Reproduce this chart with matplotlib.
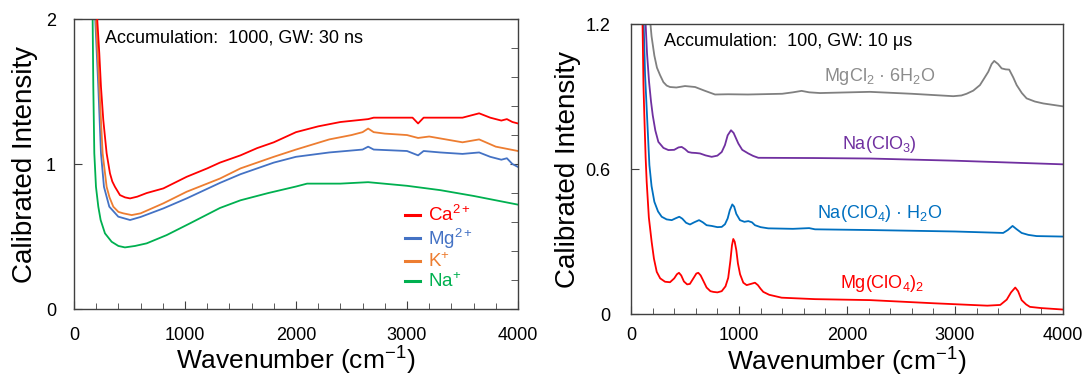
import numpy as np
import matplotlib
matplotlib.use("Agg")
import matplotlib.pyplot as plt
from matplotlib.ticker import MultipleLocator

# --------------------------------------------------------------
# Calibrated spectra: cations (left) and salts (right)
# --------------------------------------------------------------

plt.rcParams['font.family'] = ['Liberation Sans', 'DejaVu Sans']
plt.rcParams['mathtext.fontset'] = 'custom'
plt.rcParams['mathtext.rm'] = 'Liberation Sans'
plt.rcParams['mathtext.it'] = 'Liberation Sans:italic'

# ---- left panel: cations (Accumulation 1000, GW 30 ns) ----
ca_x = [205, 210, 228, 243, 264, 294, 324, 345, 369, 414, 460, 505, 570, 655,
        805, 1015, 1200, 1315, 1500, 1650, 1800, 2000, 2200, 2400, 2650, 2700,
        2900, 3050, 3100, 3150, 3300, 3500, 3650, 3750, 3850, 3900, 3950, 4000]
ca_y = [2.10, 1.99, 1.763, 1.533, 1.303, 1.074, 0.936, 0.88, 0.843, 0.786,
        0.77, 0.763, 0.775, 0.80, 0.832, 0.912, 0.97, 1.01, 1.06, 1.11, 1.15,
        1.22, 1.26, 1.29, 1.31, 1.32, 1.32, 1.32, 1.28, 1.32, 1.32, 1.32, 1.35,
        1.32, 1.30, 1.31, 1.29, 1.28]

k_x = [195, 198, 228, 258, 294, 320, 354, 400, 444, 520, 600, 805, 1015, 1315,
       1500, 1800, 2000, 2300, 2500, 2600, 2650, 2700, 2800, 3000, 3100, 3200,
       3350, 3500, 3650, 3800, 4000]
k_y = [2.10, 1.99, 1.533, 1.074, 0.843, 0.77, 0.706, 0.67, 0.66, 0.648, 0.66,
       0.729, 0.809, 0.90, 0.97, 1.05, 1.10, 1.17, 1.20, 1.22, 1.245, 1.22,
       1.21, 1.20, 1.18, 1.19, 1.17, 1.15, 1.17, 1.12, 1.09]

mg_x = [189, 192, 219, 243, 270, 318, 399, 505, 600, 805, 1015, 1315, 1500,
        1800, 2000, 2300, 2600, 2650, 2700, 3000, 3100, 3150, 3300, 3500, 3650,
        3750, 3850, 3900, 3950, 4000]
mg_y = [2.10, 1.99, 1.533, 1.074, 0.843, 0.706, 0.637, 0.614, 0.635, 0.694,
        0.763, 0.87, 0.93, 1.01, 1.05, 1.08, 1.10, 1.12, 1.10, 1.09, 1.06, 1.09,
        1.08, 1.07, 1.08, 1.05, 1.03, 1.04, 1.00, 0.98]

na_x = [166, 168, 174, 183, 198, 219, 240, 279, 339, 400, 459, 550, 655, 835,
        1045, 1315, 1500, 1750, 2000, 2100, 2400, 2650, 3000, 3300, 3600, 4000]
na_y = [2.10, 1.99, 1.533, 1.074, 0.843, 0.706, 0.614, 0.522, 0.464, 0.435,
        0.425, 0.435, 0.453, 0.51, 0.591, 0.697, 0.75, 0.80, 0.845, 0.865,
        0.865, 0.875, 0.85, 0.82, 0.78, 0.72]

cation_labels = ['Ca$^{2+}$', 'Mg$^{2+}$', 'K$^{+}$', 'Na$^{+}$']

# ---- right panel: salts (Accumulation 100, GW 10 us) ----
mgcl_x = [170, 190, 216, 240, 269, 300, 330, 361, 420, 500, 593, 680, 778, 900,
          1083, 1400, 1500, 1580, 1650, 1750, 2213, 2600, 2985, 3060, 3108,
          3170, 3232, 3270, 3309, 3340, 3364, 3400, 3433, 3470, 3503, 3540,
          3572, 3620, 3664, 3740, 3818, 4000]
mgcl_y = [1.25, 1.15, 1.07, 1.02, 0.989, 0.96, 0.946, 0.94, 0.938, 0.944, 0.94,
          0.925, 0.909, 0.91, 0.909, 0.912, 0.918, 0.924, 0.918, 0.915, 0.92,
          0.912, 0.902, 0.905, 0.912, 0.925, 0.948, 0.975, 1.003, 1.035, 1.048,
          1.035, 1.017, 1.013, 1.012, 0.98, 0.948, 0.915, 0.893, 0.88, 0.872,
          0.86]

naclo3_x = [130, 148, 167, 185, 201, 225, 253, 300, 346, 400, 440, 469, 500,
            530, 562, 600, 639, 690, 747, 800, 840, 870, 895, 926, 950, 970,
            994, 1030, 1086, 1130, 1179, 1704, 2213, 3000, 4000]
naclo3_y = [1.25, 1.08, 0.961, 0.88, 0.823, 0.76, 0.713, 0.688, 0.679, 0.68,
            0.69, 0.692, 0.683, 0.671, 0.668, 0.667, 0.665, 0.657, 0.651,
            0.656, 0.671, 0.70, 0.74, 0.761, 0.75, 0.73, 0.706, 0.68, 0.665,
            0.655, 0.647, 0.646, 0.644, 0.635, 0.62]

naclo4_x = [114, 130, 148, 170, 190, 216, 250, 284, 330, 377, 415, 447, 475,
            510, 546, 585, 630, 665, 700, 747, 800, 840, 870, 895, 915, 938,
            955, 975, 1009, 1050, 1086, 1120, 1148, 1200, 1271, 1500, 1650,
            1704, 2213, 3000, 3447, 3490, 3534, 3570, 3618, 3680, 3757, 4000]
naclo4_y = [1.25, 0.99, 0.823, 0.617, 0.53, 0.465, 0.425, 0.403, 0.392, 0.389,
            0.397, 0.403, 0.395, 0.378, 0.371, 0.38, 0.389, 0.38, 0.368, 0.365,
            0.36, 0.361, 0.372, 0.396, 0.43, 0.454, 0.445, 0.415, 0.389, 0.382,
            0.385, 0.38, 0.368, 0.36, 0.355, 0.353, 0.356, 0.351, 0.348, 0.342,
            0.336, 0.348, 0.365, 0.352, 0.336, 0.328, 0.323, 0.321]

mgclo4_x = [105, 115, 123, 135, 145, 165, 191, 212, 238, 270, 315, 361, 400,
            425, 444, 465, 490, 520, 545, 580, 605, 623, 645, 665, 700, 735,
            762, 800, 840, 875, 900, 920, 935, 947, 960, 975, 990, 1010, 1040,
            1071, 1110, 1148, 1175, 1200, 1225, 1280, 1395, 1704, 2213, 2800,
            3300, 3420, 3480, 3520, 3559, 3585, 3618, 3660, 3695, 3800, 4000]
mgclo4_y = [1.25, 0.95, 0.823, 0.65, 0.547, 0.40, 0.299, 0.23, 0.175, 0.148,
            0.134, 0.132, 0.148, 0.165, 0.171, 0.16, 0.135, 0.123, 0.125, 0.15,
            0.168, 0.171, 0.16, 0.142, 0.11, 0.095, 0.092, 0.09, 0.095, 0.115,
            0.15, 0.22, 0.285, 0.311, 0.30, 0.265, 0.21, 0.165, 0.13, 0.12,
            0.125, 0.13, 0.12, 0.105, 0.092, 0.08, 0.068, 0.062, 0.058, 0.045,
            0.035, 0.038, 0.06, 0.09, 0.11, 0.095, 0.058, 0.04, 0.03, 0.025,
            0.019]

salt_labels = ['MgCl$_2$ · 6H$_2$O', 'Na(ClO$_3$)', 'Na(ClO$_4$) · H$_2$O',
               'Mg(ClO$_4$)$_2$']
salt_label_pos = [(2305, 0.985), (2296, 0.70), (2305, 0.418), (2324, 0.128)]

C_RED = '#ff0000'
C_BLUE = '#4472c4'
C_ORANGE = '#ed7d31'
C_GREEN = '#00b050'
C_GRAY = '#808080'
C_PURPLE = '#7030a0'
C_SKY = '#0070c0'


def style_axes(ax, ymax, ymajor, yminor_right, xpad, ypad):
    for sp in ax.spines.values():
        sp.set_color('#404040')
        sp.set_linewidth(1.0)
    ax.set_xlim(0, 4000)
    ax.set_ylim(0, ymax)
    ax.xaxis.set_major_locator(MultipleLocator(1000))
    ax.xaxis.set_minor_locator(MultipleLocator(200))
    ax.yaxis.set_major_locator(MultipleLocator(ymajor))
    if yminor_right:
        ax.yaxis.set_minor_locator(MultipleLocator(0.2))
    ax.tick_params(axis='both', which='both', direction='in', colors='#404040',
                   labelcolor='black', labelsize=13)
    ax.tick_params(axis='x', which='major', length=6, pad=xpad)
    ax.tick_params(axis='x', which='minor', length=4)
    ax.tick_params(axis='y', which='major', length=6, pad=ypad)
    if yminor_right:
        ax.tick_params(axis='y', which='minor', length=5, left=False, right=True)
        ax.tick_params(axis='y', which='major', right=True)


fig = plt.figure(figsize=(10.85, 3.78), dpi=100)
ax1 = fig.add_axes([0.0682, 0.1825, 0.4092, 0.767])
ax2 = fig.add_axes([0.5816, 0.169, 0.398, 0.767])

# left panel
lines = []
for xs, ys, col in [(ca_x, ca_y, C_RED), (mg_x, mg_y, C_BLUE),
                    (k_x, k_y, C_ORANGE), (na_x, na_y, C_GREEN)]:
    ln, = ax1.plot(xs, ys, color=col, lw=1.3)
    lines.append(ln)
lines[0].set_zorder(3)

style_axes(ax1, 2, 1, True, xpad=13, ypad=13)
ax1.yaxis.set_major_formatter(plt.FuncFormatter(lambda v, p: f"{v:.0f}"))
ax1.text(0.07, 0.965, 'Accumulation:  1000, GW: 30 ns', transform=ax1.transAxes,
         fontsize=13, ha='left', va='top')
leg = ax1.legend(lines, cation_labels, loc='upper left',
                 bbox_to_anchor=(0.745, 0.358), frameon=False, fontsize=13.5,
                 handlelength=0.8, handletextpad=0.45, labelspacing=0.08,
                 borderpad=0, borderaxespad=0, labelcolor='linecolor')
for h in leg.legend_handles:
    h.set_linewidth(2.2)
ax1.set_ylabel('Calibrated Intensity', fontsize=20)
ax1.set_xlabel('Wavenumber (cm$^{-1}$)', fontsize=19)
ax1.yaxis.set_label_coords(-0.082, 0.5)
ax1.xaxis.set_label_coords(0.5, -0.125)

# right panel
salt_series = [(mgcl_x, mgcl_y, C_GRAY), (naclo3_x, naclo3_y, C_PURPLE),
               (naclo4_x, naclo4_y, C_SKY), (mgclo4_x, mgclo4_y, C_RED)]
label_cols = ['#8c8c8c', C_PURPLE, C_SKY, C_RED]
for (xs, ys, col), lab, (lx, ly), lc in zip(salt_series, salt_labels,
                                             salt_label_pos, label_cols):
    ax2.plot(xs, ys, color=col, lw=1.3)
    ax2.text(lx, ly, lab, color=lc, fontsize=13, ha='center', va='center')

style_axes(ax2, 1.2, 0.6, False, xpad=9, ypad=15)
ax2.yaxis.set_major_formatter(plt.FuncFormatter(lambda v, p: f"{v:g}"))
ax2.text(0.076, 0.97, 'Accumulation:  100, GW: 10 μs', transform=ax2.transAxes,
         fontsize=13, ha='left', va='top')
ax2.set_ylabel('Calibrated Intensity', fontsize=20)
ax2.set_xlabel('Wavenumber (cm$^{-1}$)', fontsize=19)
ax2.yaxis.set_label_coords(-0.116, 0.5)
ax2.xaxis.set_label_coords(0.5, -0.108)

fig.savefig('out.png', dpi=100)
